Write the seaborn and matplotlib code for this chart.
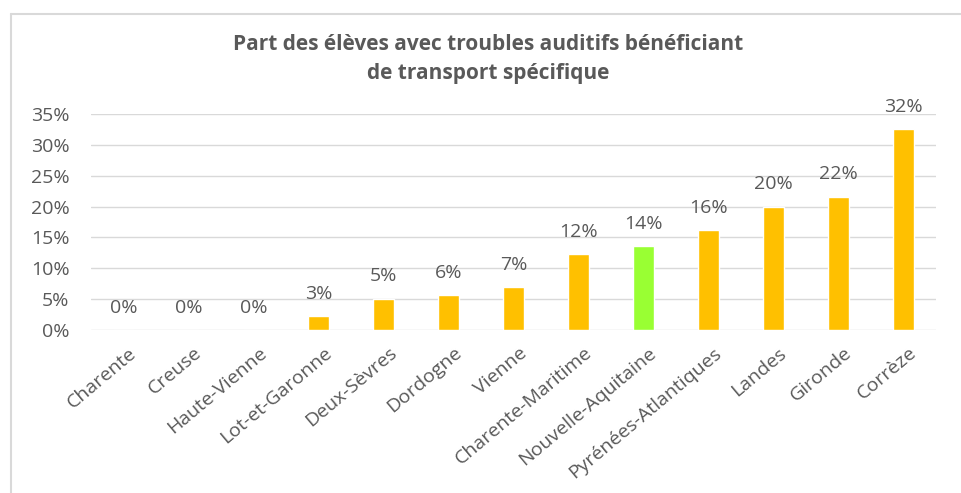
import pandas as pd
import matplotlib.pyplot as plt
import matplotlib.transforms as mtransforms
import seaborn as sns

# Part des élèves avec troubles auditifs bénéficiant de transport spécifique
departements = ['Charente', 'Creuse', 'Haute-Vienne', 'Lot-et-Garonne', 'Deux-Sèvres',
                'Dordogne', 'Vienne', 'Charente-Maritime', 'Nouvelle-Aquitaine',
                'Pyrénées-Atlantiques', 'Landes', 'Gironde', 'Corrèze']
parts = [0, 0, 0, 2.3, 5.1, 5.6, 7.0, 12.3, 13.6, 16.2, 20.0, 21.6, 32.5]
etiquettes = ['0%', '0%', '0%', '3%', '5%', '6%', '7%', '12%', '14%', '16%', '20%', '22%', '32%']
y_ticks = [0, 5, 10, 15, 20, 25, 30, 35]

ORANGE = '#FFC000'
VERT = '#99FF33'
GRIS = '#595959'
GRILLE = '#D9D9D9'


def main():
    df = pd.DataFrame({'dep': departements, 'part': parts})
    couleurs = {d: (VERT if d == 'Nouvelle-Aquitaine' else ORANGE) for d in departements}

    sns.set_style('white')
    plt.rcParams['font.family'] = ['Open Sans', 'DejaVu Sans']

    fig = plt.figure(figsize=(9.62, 4.93), dpi=100)
    ax = fig.add_axes([91 / 962, 1 - 330 / 493, 845 / 962, 216 / 493])

    sns.barplot(data=df, x='dep', y='part', hue='dep', palette=couleurs,
                width=0.31, legend=False, saturation=1, ax=ax, zorder=3)

    # étiquettes de données
    for i, (v, lab) in enumerate(zip(parts, etiquettes)):
        ax.annotate(lab, (i, v), xytext=(0, 16), textcoords='offset points',
                    ha='center', va='center', fontsize=14, color=GRIS)

    ax.set_ylim(0, 35)
    ax.set_xlim(-0.5, len(departements) - 0.5)
    ax.set_yticks(y_ticks)
    ax.set_yticklabels([f'{t}%' for t in y_ticks])
    ax.yaxis.grid(True, color=GRILLE, lw=1, zorder=0)
    ax.set_axisbelow(True)
    for s in ax.spines.values():
        s.set_visible(False)
    ax.tick_params(axis='both', length=0, colors=GRIS, labelsize=14)
    ax.tick_params(axis='y', pad=15.5)
    ax.tick_params(axis='x', pad=10)
    decal = mtransforms.ScaledTranslation(5 / 100, 0, fig.dpi_scale_trans)
    for t in ax.get_xticklabels():
        t.set_rotation(40)
        t.set_ha('right')
        t.set_rotation_mode('anchor')
        t.set_transform(t.get_transform() + decal)
    ax.set_xlabel('')
    ax.set_ylabel('')

    fig.text(488 / 962, 1 - 59 / 493,
             'Part des élèves avec troubles auditifs bénéficiant\nde transport spécifique',
             ha='center', va='center', fontsize=15, fontweight='bold', color=GRIS,
             linespacing=1.45)

    # cadre du graphique (bord gauche et haut)
    fig.add_artist(plt.Line2D([10.5 / 962, 10.5 / 962], [0, 1 - 14 / 493],
                              transform=fig.transFigure, color=GRILLE, lw=1.5))
    fig.add_artist(plt.Line2D([10.5 / 962, 1], [1 - 14 / 493, 1 - 14 / 493],
                              transform=fig.transFigure, color=GRILLE, lw=1.5))

    fig.savefig('out.png', dpi=100, facecolor='white')


if __name__ == "__main__":
    main()
